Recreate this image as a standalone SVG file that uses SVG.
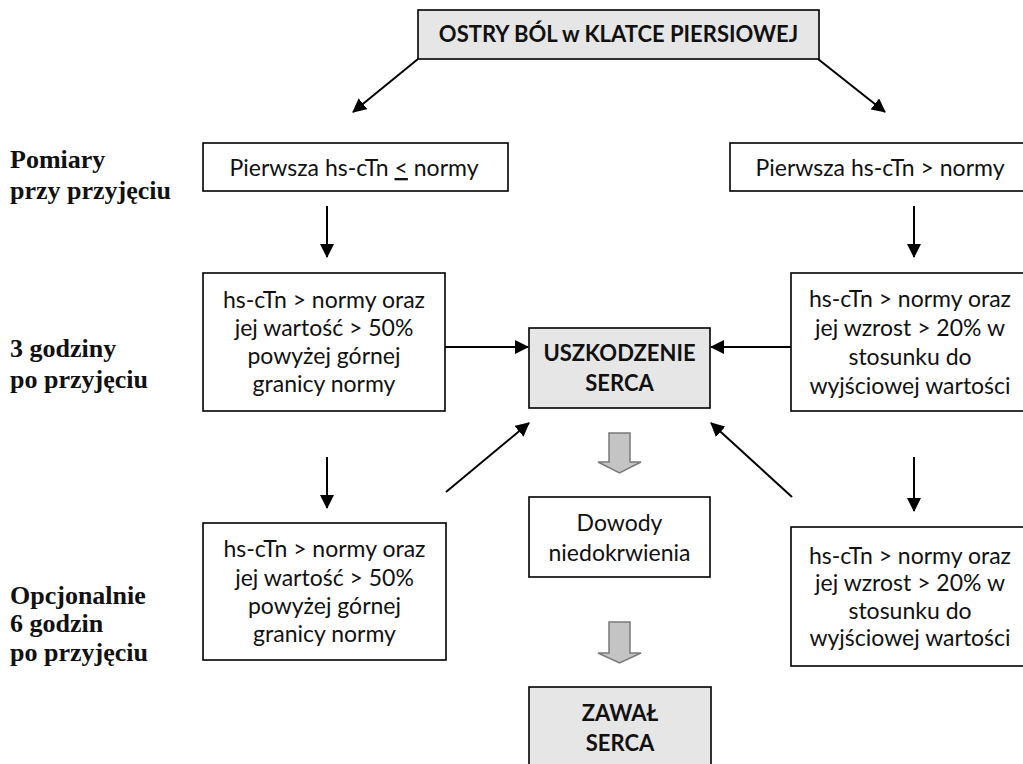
<svg xmlns="http://www.w3.org/2000/svg" width="1023" height="764" viewBox="0 0 1023 764">
<defs>
<marker id="ah" viewBox="0 0 14 14" refX="13" refY="7" markerWidth="14" markerHeight="14" markerUnits="userSpaceOnUse" orient="auto">
<path d="M0,0 L14,7 L0,14 z" fill="#000"/>
</marker>
<style>
.box{fill:#fff;stroke:#000;stroke-width:1.6}
.gbox{fill:#e6e6e6;stroke:#000;stroke-width:1.6}
.t{font-family:Lato,"Liberation Sans",sans-serif;font-size:23px;fill:#111;text-anchor:middle}
.tb{font-family:Lato,"Liberation Sans",sans-serif;font-size:22px;font-weight:bold;fill:#111;text-anchor:middle}
.lab{font-family:"Liberation Serif","DejaVu Serif",serif;font-size:26px;font-weight:bold;fill:#111}
.c{stroke:#000;stroke-width:2;fill:none;marker-end:url(#ah)}
.blk{fill:#c4c4c4;stroke:#7a7a7a;stroke-width:1.5}
</style>
</defs>
<rect width="1023" height="764" fill="#fff"/>

<g id="labels">
<text class="lab" x="10" y="168">Pomiary</text>
<text class="lab" x="10" y="199">przy przyjęciu</text>
<text class="lab" x="10" y="357">3 godziny</text>
<text class="lab" x="10" y="388">po przyjęciu</text>
<text class="lab" x="10" y="604">Opcjonalnie</text>
<text class="lab" x="10" y="632">6 godzin</text>
<text class="lab" x="10" y="661">po przyjęciu</text>
</g>

<g id="connectors">
<line class="c" x1="418" y1="59" x2="353" y2="112"/>
<line class="c" x1="818" y1="59" x2="885" y2="112"/>
<line class="c" x1="327" y1="206" x2="327" y2="257"/>
<line class="c" x1="914" y1="206" x2="914" y2="257"/>
<line class="c" x1="445" y1="347" x2="528" y2="347"/>
<line class="c" x1="791" y1="347" x2="711" y2="347"/>
<line class="c" x1="446" y1="492" x2="529" y2="423"/>
<line class="c" x1="792" y1="497" x2="711" y2="423"/>
<line class="c" x1="327" y1="457" x2="327" y2="508"/>
<line class="c" x1="914" y1="457" x2="914" y2="511"/>
<polygon class="blk" points="609,433 630,433 630,462 641,462 619.5,473 598,462 609,462"/>
<polygon class="blk" points="609,622 630,622 630,653 641,653 619.5,663 598,653 609,653"/>
</g>

<g id="start">
<rect class="gbox" x="418" y="10" width="401" height="49"/>
<text class="tb" x="618.5" y="42">OSTRY BÓL w KLATCE PIERSIOWEJ</text>
</g>

<g id="first-low">
<rect class="box" x="203" y="143" width="305" height="48"/>
<text class="t" x="354" y="176">Pierwsza hs-cTn <tspan text-decoration="underline">&lt;</tspan> normy</text>
</g>

<g id="first-high">
<rect class="box" x="730" y="143" width="294" height="48"/>
<text class="t" x="880" y="176">Pierwsza hs-cTn &gt; normy</text>
</g>

<g id="left-3h">
<rect class="box" x="203" y="273" width="242" height="138"/>
<text class="t" x="324" y="308">hs-cTn &gt; normy oraz</text>
<text class="t" x="324" y="336">jej wartość &gt; 50%</text>
<text class="t" x="324" y="364">powyżej górnej</text>
<text class="t" x="324" y="392">granicy normy</text>
</g>

<g id="right-3h">
<rect class="box" x="791" y="273" width="233" height="138"/>
<text class="t" x="910" y="307">hs-cTn &gt; normy oraz</text>
<text class="t" x="910" y="336">jej wzrost &gt; 20% w</text>
<text class="t" x="910" y="365">stosunku do</text>
<text class="t" x="910" y="394">wyjściowej wartości</text>
</g>

<g id="uszkodzenie">
<rect class="gbox" x="529" y="328" width="181" height="80"/>
<text class="tb" x="619.5" y="361">USZKODZENIE</text>
<text class="tb" x="619.5" y="391">SERCA</text>
</g>

<g id="dowody">
<rect class="box" x="529" y="497" width="181" height="80"/>
<text class="t" x="619.5" y="531">Dowody</text>
<text class="t" x="619.5" y="561">niedokrwienia</text>
</g>

<g id="left-6h">
<rect class="box" x="203" y="523" width="243" height="137"/>
<text class="t" x="324.5" y="557">hs-cTn &gt; normy oraz</text>
<text class="t" x="324.5" y="586">jej wartość &gt; 50%</text>
<text class="t" x="324.5" y="614">powyżej górnej</text>
<text class="t" x="324.5" y="642">granicy normy</text>
</g>

<g id="right-6h">
<rect class="box" x="791" y="527" width="233" height="139"/>
<text class="t" x="910" y="564">hs-cTn &gt; normy oraz</text>
<text class="t" x="910" y="591">jej wzrost &gt; 20% w</text>
<text class="t" x="910" y="619">stosunku do</text>
<text class="t" x="910" y="646">wyjściowej wartości</text>
</g>

<g id="zawal">
<rect class="gbox" x="529" y="687" width="182" height="90"/>
<text class="tb" x="620" y="721">ZAWAŁ</text>
<text class="tb" x="620" y="751">SERCA</text>
</g>
</svg>
